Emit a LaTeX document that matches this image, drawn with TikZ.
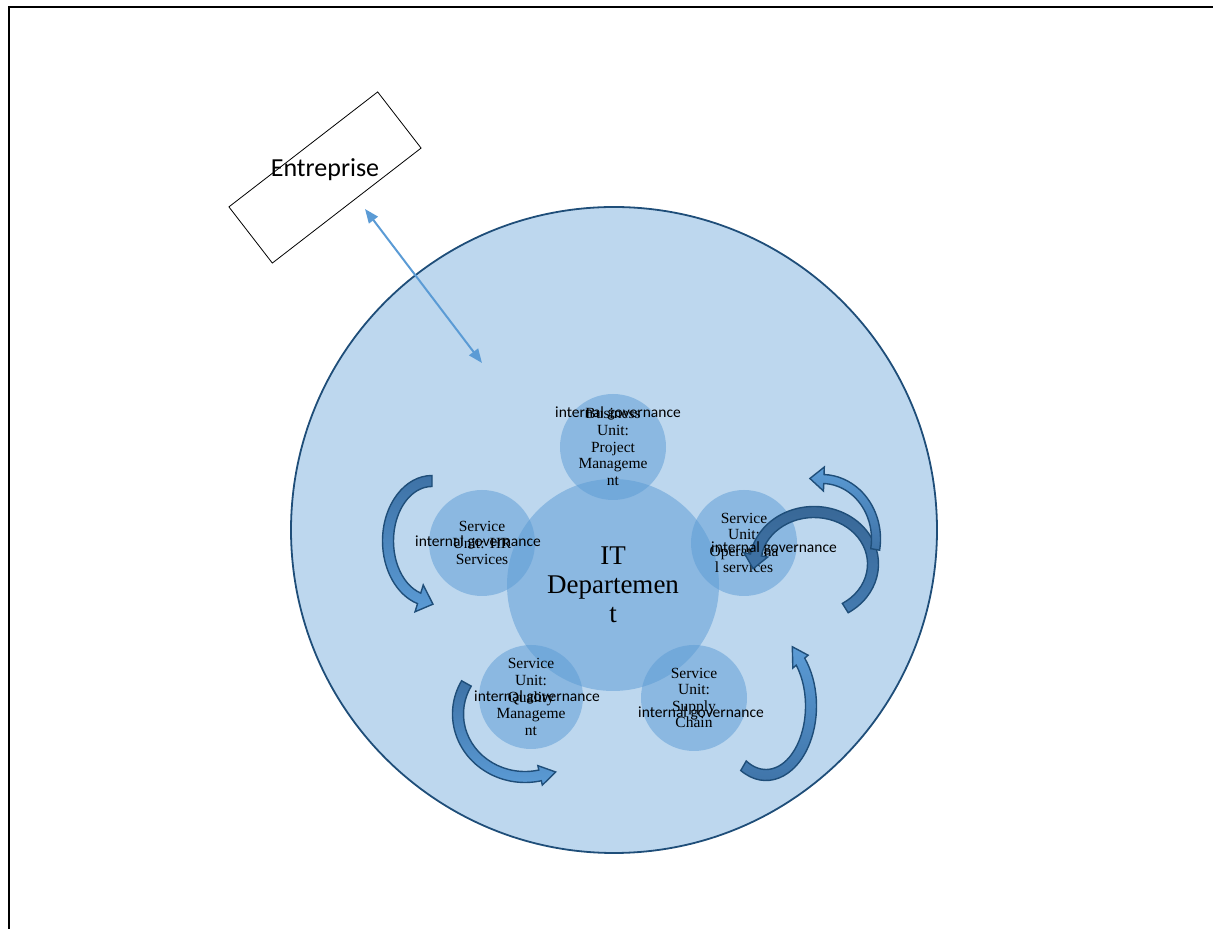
\documentclass[tikz,border=0pt]{standalone}
\usepackage{fontspec}
\setmainfont{Liberation Serif}
\newfontfamily\calib{Carlito}
\usetikzlibrary{arrows.meta}
\definecolor{bigfill}{HTML}{BDD7EE}
\definecolor{bigline}{HTML}{1F4E79}
\definecolor{unitfill}{HTML}{5B9BD5}
\definecolor{arrline}{HTML}{1F4E79}
\definecolor{arrdark}{HTML}{3E72A6}
\definecolor{arrlight}{HTML}{5B9BD5}
\newcommand{\carrow}[9]{%
  \pgfmathsetmacro{\ArCa}{cos(#6)}%
  \pgfmathsetmacro{\ArSa}{sin(#6)}%
  \pgfmathsetmacro{\ArSg}{ifthenelse(#6>#5,1,-1)}%
  \pgfmathsetmacro{\ArTx}{-(\ArSg)*(#3)*(\ArSa)}%
  \pgfmathsetmacro{\ArTy}{(\ArSg)*(#4)*(\ArCa)}%
  \pgfmathsetmacro{\ArTn}{veclen(\ArTx,\ArTy)}%
  \pgfmathsetmacro{\ArPx}{#1+(#3)*(\ArCa)+(#9)*(\ArTx)/(\ArTn)}%
  \pgfmathsetmacro{\ArPy}{#2+(#4)*(\ArSa)+(#9)*(\ArTy)/(\ArTn)}%
  \path[curvearrow] ({#1+(#3+#7)*cos(#5)},{#2+(#4+#7)*sin(#5)})
    arc[start angle=#5,end angle=#6,x radius={#3+#7},y radius={#4+#7}]
    -- ({#1+(#3+#8)*(\ArCa)},{#2+(#4+#8)*(\ArSa)})
    -- (\ArPx,\ArPy)
    -- ({#1+(#3-#8)*(\ArCa)},{#2+(#4-#8)*(\ArSa)})
    -- ({#1+(#3-#7)*(\ArCa)},{#2+(#4-#7)*(\ArSa)})
    arc[start angle=#6,end angle=#5,x radius={#3-#7},y radius={#4-#7}]
    -- cycle;
}
\begin{document}
\begin{tikzpicture}[x=1pt,y=1pt,
  frame/.style={line width=2pt,black},
  bigcircle/.style={circle,draw=bigline,line width=1.8pt,fill=bigfill,minimum size=646pt,inner sep=0pt},
  itcircle/.style={circle,fill=unitfill,fill opacity=0.5,minimum size=212pt,inner sep=0pt},
  unit/.style={circle,fill=unitfill,fill opacity=0.5,minimum size=106pt,inner sep=0pt},
  unittext/.style={text opacity=1,align=center,font=\fontsize{15.5}{16.6}\selectfont,inner sep=0pt},
  ittext/.style={align=center,font=\fontsize{27}{29}\selectfont,inner sep=0pt},
  gov/.style={font=\calib\fontsize{15.5}{18}\selectfont,inner sep=0pt},
  entbox/.style={draw=black,line width=0.8pt,rectangle,minimum width=188pt,minimum height=71pt,rotate=37.7,inner sep=0pt},
  enttext/.style={font=\calib\fontsize{26}{30}\selectfont,inner sep=0pt},
  link/.style={draw=arrlight,line width=2pt,{Triangle[length=14pt,width=11pt]}-{Triangle[length=14pt,width=11pt]}},
  curvearrow/.style={draw=arrline,line width=1.4pt,top color=arrdark,bottom color=arrlight}
]
\useasboundingbox (0,0) rectangle (1213,929);
\draw[frame] (9,-2) -- (9,922) -- (1215,922);

% big circle
\node[bigcircle] (big) at (614,399) {};

% IT department and units
\node[itcircle] (it) at (613,344) {};
\node[unit] (bu) at (613,482) {};
\node[unit] (hr) at (482,386) {};
\node[unit] (ops) at (744,386) {};
\node[unit,minimum size=104pt] (qm) at (531,232) {};
\node[unit] (sc) at (694,231) {};

\node[ittext] (itt) at (it.center) {IT\\Departemen\\t};
\node[unittext] (but) at (bu.center) {Business\\Unit:\\Project\\Manageme\\nt};
\node[unittext] (hrt) at (hr.center) {Service\\Unit: HR\\Services};
\node[unittext] (opst) at (ops.center) {Service\\Unit:\\Operationa\\l services};
\node[unittext] (qmt) at (qm.center) {Service\\Unit:\\Quality\\Manageme\\nt};
\node[unittext] (sct) at (sc.center) {Service\\Unit:\\Supply\\Chain};

% curved arrows
\carrow{432}{388}{44}{60}{90}{253}{5.5}{14}{15}
\carrow{525}{215}{67}{63}{151}{283}{5.5}{10}{16}
\begin{scope}[curvearrow/.append style={top color=arrlight,bottom color=arrdark}]
\carrow{766}{223}{45}{69}{-120}{40}{5.5}{10}{17}
\end{scope}
\begin{scope}[curvearrow/.append style={top color=arrdark!90!black,bottom color=arrdark!80!arrlight}]
\carrow{814}{365}{59}{52}{-58}{170}{5.5}{12}{14}
\end{scope}
\begin{scope}[curvearrow/.append style={top color=arrlight,bottom color=arrdark}]
\carrow{822}{390}{54}{60}{-10}{88}{4.5}{12}{14}
\end{scope}

% internal governance labels
\node[gov] (g1) at (618,516) {internal governance};
\node[gov] (g2) at (478,387) {internal governance};
\node[gov] (g3) at (774,381) {internal governance};
\node[gov] (g4) at (537,232) {internal governance};
\node[gov] (g5) at (701,216) {internal governance};

% entreprise
\node[entbox] (ent) at (325,751.5) {};
\node[enttext,anchor=base] (entt) at (325,752) {Entreprise};
\coordinate (ea) at (365,720);
\coordinate (ia) at (482,566);
\draw[link] (ea) -- (ia);
\end{tikzpicture}
\end{document}
